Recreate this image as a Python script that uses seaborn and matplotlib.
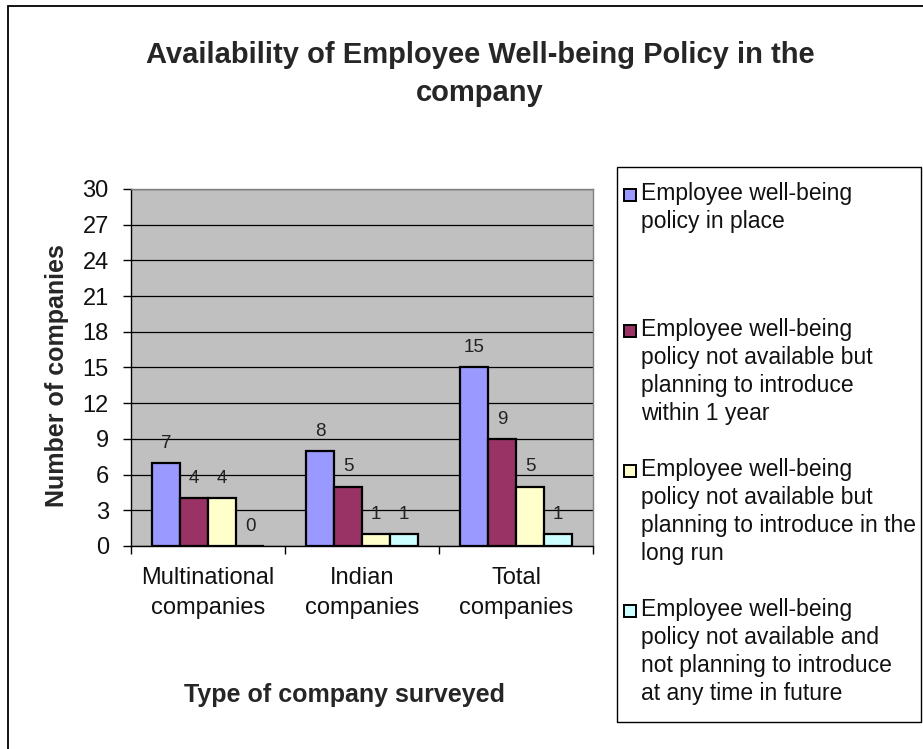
import matplotlib
matplotlib.use("Agg")
import matplotlib.pyplot as plt
import seaborn as sns
import pandas as pd
from matplotlib.patches import Rectangle

categories = ["Multinational\ncompanies", "Indian\ncompanies", "Total\ncompanies"]
series = [
    "Employee well-being\npolicy in place",
    "Employee well-being\npolicy not available but\nplanning to introduce\nwithin 1 year",
    "Employee well-being\npolicy not available but\nplanning to introduce in the\nlong run",
    "Employee well-being\npolicy not available and\nnot planning to introduce\nat any time in future",
]
in_place = [7, 8, 15]
within_one_year = [4, 5, 9]
in_long_run = [4, 1, 5]
not_planning = [0, 1, 1]
colors = ["#9999FF", "#993366", "#FFFFCC", "#CCFFFF"]
y_ticks = list(range(0, 31, 3))

values = [in_place, within_one_year, in_long_run, not_planning]
df = pd.DataFrame(
    [(c, s, v[i]) for s, v in zip(series, values) for i, c in enumerate(categories)],
    columns=["category", "series", "count"],
)

sns.set_style("white")
plt.rcParams["font.family"] = ["Liberation Sans", "DejaVu Sans"]

W, H = 923, 749
fig = plt.figure(figsize=(W / 100, H / 100), dpi=100)
fx = lambda x: x / W
fy = lambda y: 1 - y / H

ax = fig.add_axes([fx(131), fy(546), fx(593) - fx(131), fy(189) - fy(546)])
ax.set_facecolor("#C0C0C0")

sns.barplot(
    data=df, x="category", y="count", hue="series", order=categories,
    hue_order=series, palette=colors, width=4 / 5.5, saturation=1,
    edgecolor="black", linewidth=1.6, errorbar=None, legend=False, ax=ax,
)

for cont in ax.containers:
    ax.bar_label(cont, fmt="%g", padding=8, fontsize=13.5, color="#222222")

ax.set_ylim(0, 30)
ax.set_xlim(-0.5, len(categories) - 0.5)
ax.set_yticks(y_ticks)
ax.yaxis.grid(True, color="black", linewidth=0.9)
ax.set_axisbelow(True)

ax.tick_params(axis="y", which="major", length=6, width=1, color="black",
               direction="out", left=True, labelsize=17, pad=10, labelcolor="#111111")
ax.tick_params(axis="x", which="major", length=0, labelsize=17, pad=15, labelcolor="#111111")
ax.set_xticks([i - 0.5 for i in range(len(categories) + 1)], minor=True)
ax.tick_params(axis="x", which="minor", length=6, width=1, color="black",
               direction="out", bottom=True)
for lbl in ax.get_xticklabels():
    lbl.set_multialignment("center")
    lbl.set_linespacing(1.5)

for side in ["left", "bottom"]:
    ax.spines[side].set_color("black")
    ax.spines[side].set_linewidth(1.0)
for side in ["top", "right"]:
    ax.spines[side].set_color("#808080")
    ax.spines[side].set_linewidth(1.0)

ax.set_xlabel("")
ax.set_ylabel("")
fig.text(fx(57), fy(376), "Number of companies", rotation=90, ha="center",
         va="center", fontsize=18, fontweight="bold")
fig.text(fx(344), fy(695), "Type of company surveyed", ha="center",
         va="center", fontsize=18, fontweight="bold")
fig.text(fx(480), fy(74), "Availability of Employee Well-being Policy in the\ncompany",
         ha="center", va="center", multialignment="center", fontsize=21,
         fontweight="bold", linespacing=1.45)

# chart frame
fig.patches.append(Rectangle((fx(8), -0.5), 1.5, fy(6) + 0.5, transform=fig.transFigure,
                             fill=False, edgecolor="black", linewidth=1.3))

# legend box
fig.patches.append(Rectangle((fx(617), fy(722)), fx(921) - fx(617), fy(167) - fy(722),
                             transform=fig.transFigure, fill=False,
                             edgecolor="black", linewidth=1.0))
entry_centers = [195, 331, 471, 611]
for label, color, yc in zip(series, colors, entry_centers):
    fig.patches.append(Rectangle((fx(624), fy(yc + 6)), fx(12), 12 / H,
                                 transform=fig.transFigure, facecolor=color,
                                 edgecolor="black", linewidth=1.4))
    fig.text(fx(641), fy(yc - 13), label, ha="left", va="top", fontsize=16.5,
             linespacing=1.28, color="#111111")

fig.savefig("out.png", dpi=100, facecolor="white")
